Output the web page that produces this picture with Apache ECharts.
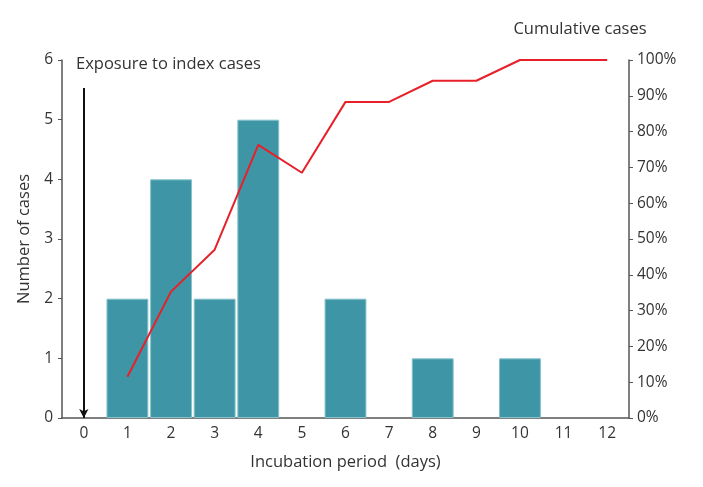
<!DOCTYPE html>
<html>
<head>
<meta charset="utf-8">
<script src="https://cdn.jsdelivr.net/npm/echarts@6/dist/echarts.min.js"></script>
<style>html,body{margin:0;padding:0;background:#fff}#c{width:703px;height:487px}</style>
</head>
<body>
<div id="c"></div>
<script>
const categories = ['0','1','2','3','4','5','6','7','8','9','10','11','12'];
const cases = [0, 2, 4, 2, 5, 0, 2, 0, 1, 0, 1, 0, 0];
const cumulativePct = [null, 11.5, 35.3, 47, 76.3, 68.5, 88.3, 88.3, 94.2, 94.2, 100, 100, 100];
const leftTicks = [0, 6, 1];
const rightTicks = [0, 100, 10];
const exposureArrow = [5.53, 0];

const font = '"Open Sans", "Noto Sans", sans-serif';
const chart = echarts.init(document.getElementById('c'));
chart.setOption({
  animation: false,
  textStyle: { fontFamily: font },
  grid: { left: 62, right: 74, top: 60, bottom: 69 },
  xAxis: {
    type: 'category',
    data: categories,
    boundaryGap: true,
    axisLine: { lineStyle: { color: '#555', width: 1.5 } },
    axisTick: { show: false },
    axisLabel: { color: '#333', fontSize: 15.5, margin: 8 },
    name: 'Incubation period  (days)',
    nameLocation: 'middle',
    nameGap: 36,
    nameTextStyle: { color: '#333', fontSize: 16.5 }
  },
  yAxis: [
    {
      type: 'value', min: leftTicks[0], max: leftTicks[1], interval: leftTicks[2],
      axisLine: { show: true, lineStyle: { color: '#555', width: 1.5 } },
      axisTick: { show: true, length: 4, lineStyle: { color: '#555' } },
      axisLabel: { color: '#333', fontSize: 15.5, margin: 9 },
      splitLine: { show: false },
      name: 'Number of cases',
      nameLocation: 'middle',
      nameGap: 27,
      nameTextStyle: { color: '#333', fontSize: 16.5 }
    },
    {
      type: 'value', min: rightTicks[0], max: rightTicks[1], interval: rightTicks[2],
      position: 'right',
      axisLine: { show: true, lineStyle: { color: '#555', width: 1.5 } },
      axisTick: { show: true, length: 4, lineStyle: { color: '#555' } },
      axisLabel: { color: '#333', fontSize: 15.5, margin: 8, formatter: '{value}%' },
      splitLine: { show: false },
      name: 'Cumulative cases',
      nameLocation: 'end',
      nameGap: 22,
      nameTextStyle: { color: '#333', fontSize: 16.5, align: 'center', padding: [0, 0, 0, -98] }
    }
  ],
  graphic: [
    { type: 'text', left: 76, top: 56, style: { text: 'Exposure to index cases', fill: '#333', fontSize: 16.5, fontFamily: font } }
  ],
  series: [
    {
      type: 'bar',
      data: cases.map(v => (v === 0 ? '-' : v)),
      yAxisIndex: 0,
      barCategoryGap: '4%',
      itemStyle: { color: '#3d95a5', borderColor: '#86c3cc', borderWidth: 1 },
      markLine: {
        silent: true,
        symbol: ['none', 'arrow'],
        symbolSize: [7, 9],
        label: { show: false },
        lineStyle: { color: '#111', width: 2, type: 'solid' },
        data: [[{ coord: ['0', exposureArrow[0]] }, { coord: ['0', exposureArrow[1]] }]]
      }
    },
    {
      type: 'line',
      data: cumulativePct,
      yAxisIndex: 1,
      symbol: 'none',
      lineStyle: { color: '#e8202a', width: 2 },
      itemStyle: { color: '#e8202a' }
    }
  ]
});
</script>
</body>
</html>
